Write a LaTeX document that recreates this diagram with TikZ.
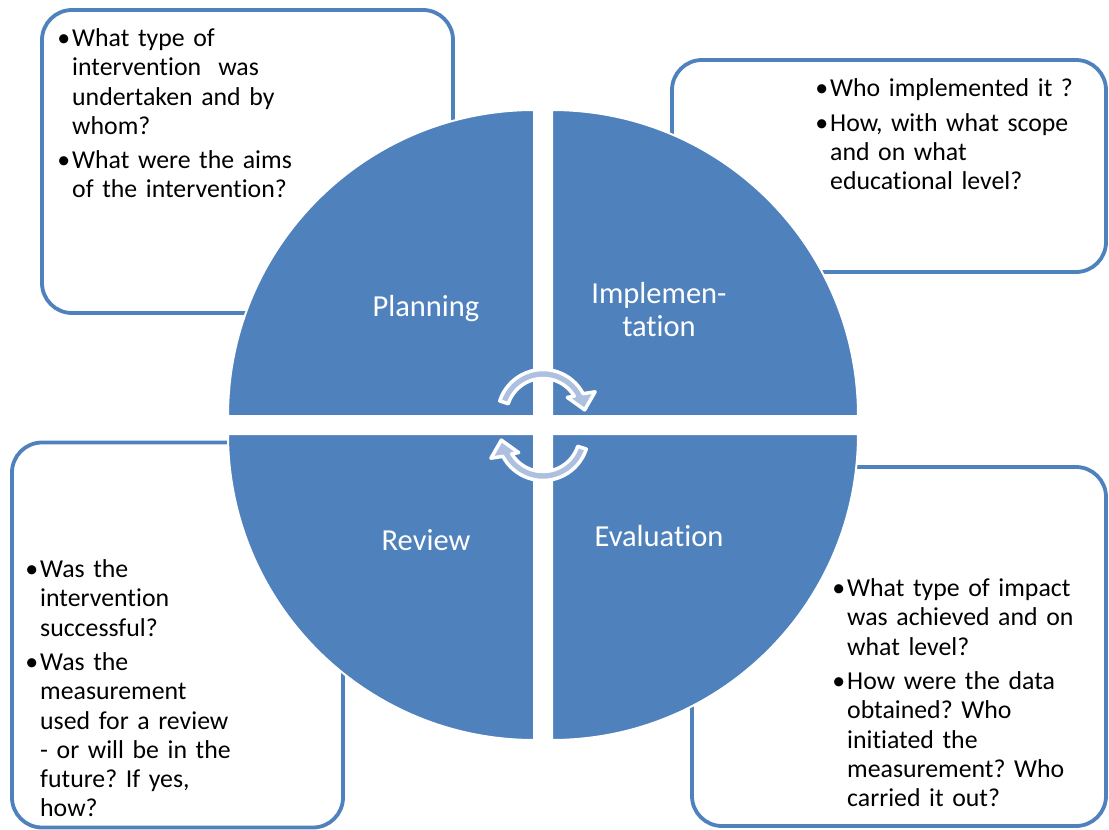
\documentclass[tikz,border=0pt]{standalone}
\usepackage{fontspec}
\setmainfont{Carlito}[Ligatures=NoCommon]
\usetikzlibrary{positioning}
\definecolor{cycleblue}{HTML}{4F81BD}
\definecolor{arrowblue}{HTML}{ADC0DF}
\tikzset{
  qbox/.style={draw=cycleblue, line width=3.8pt, fill=white, rounded corners=30pt, inner sep=0pt},
  quadrant/.style={fill=cycleblue, draw=white, line width=2pt},
  turn/.style={fill=arrowblue, draw=white, line width=3.5pt, line join=round},
  bullets/.style={anchor=base west, inner sep=0pt, text width=#1, align=left,
    font=\fontsize{25.8}{29.3}\selectfont},
  phase/.style={anchor=base, inner sep=0pt, text width=220pt, align=center, text=white,
    font=\fontsize{30.5}{33.4}\selectfont}
}
\newcommand{\bul}{\leavevmode\llap{\textbullet\hspace{2pt}}}
\frenchspacing

\begin{document}
\begin{tikzpicture}[x=1pt, y=-1pt]
\useasboundingbox (0,0) rectangle (1109,830);

% question boxes
\node [qbox, minimum width=411pt, minimum height=303pt] (planbox) at (247.5,161.5) {};
\node [qbox, minimum width=434pt, minimum height=212pt] (implbox) at (889,166) {};
\node [qbox, minimum width=331pt, minimum height=385pt] (revbox) at (177.5,635) {};
\node [qbox, minimum width=414pt, minimum height=359pt] (evalbox) at (899,646.5) {};

% the four quarters
\draw [quadrant] (534,416) -- ++(-306,0) arc [start angle=180, end angle=270, radius=306] -- cycle;
\draw [quadrant] (552,416) -- ++(0,-306) arc [start angle=270, end angle=360, radius=306] -- cycle;
\draw [quadrant] (552,434) -- ++(306,0) arc [start angle=0, end angle=90, radius=306] -- cycle;
\draw [quadrant] (534,434) -- ++(0,306) arc [start angle=90, end angle=180, radius=306] -- cycle;

% turning arrows in the middle
\foreach \cy/\rot in {415/0, 435/180} {
  \begin{scope}[shift={(543,\cy)}, rotate=\rot]
  \draw [turn] (-162:45.5) arc [start angle=-162, end angle=-28, radius=45.5]
    -- (-24:57) -- (-7:42) -- (-36:30) -- (-31:36.5)
    arc [start angle=-31, end angle=-162, radius=36.5] -- cycle;
  \end{scope}
}

\node [phase] (planning) at (426,316.7) {Planning};
\node [phase] (implementation) at (659,303.3) {Implemen-\\tation};
\node [phase] (review) at (426,550.7) {Review};
\node [phase] (evaluation) at (659,546.7) {Evaluation};

\node [bullets=330pt] (plantext) at (72,46.5) {\bul What type of\\ intervention\ \ was\\ undertaken and by\\ whom?\\[4.7pt] \bul What were the aims\\ of the intervention?};
\node [bullets=270pt] (impltext) at (830,96) {\bul Who implemented it ?\\[5.7pt] \bul How, with what scope\\ and on what\\ educational level?};
\node [bullets=280pt] (revtext) at (40,577.5) {\bul Was the\\ intervention\\ successful?\\[5pt] \bul Was the\\ measurement\\ used for a review\\ - or will be in the\\ future? If yes,\\ how?};
\node [bullets=250pt] (evaltext) at (847,596.5) {\bul What type of impact\\ was achieved and on\\ what level?\\[5pt] \bul How were the data\\ obtained? Who\\ initiated the\\ measurement? Who\\ carried it out?};
\end{tikzpicture}
\end{document}
